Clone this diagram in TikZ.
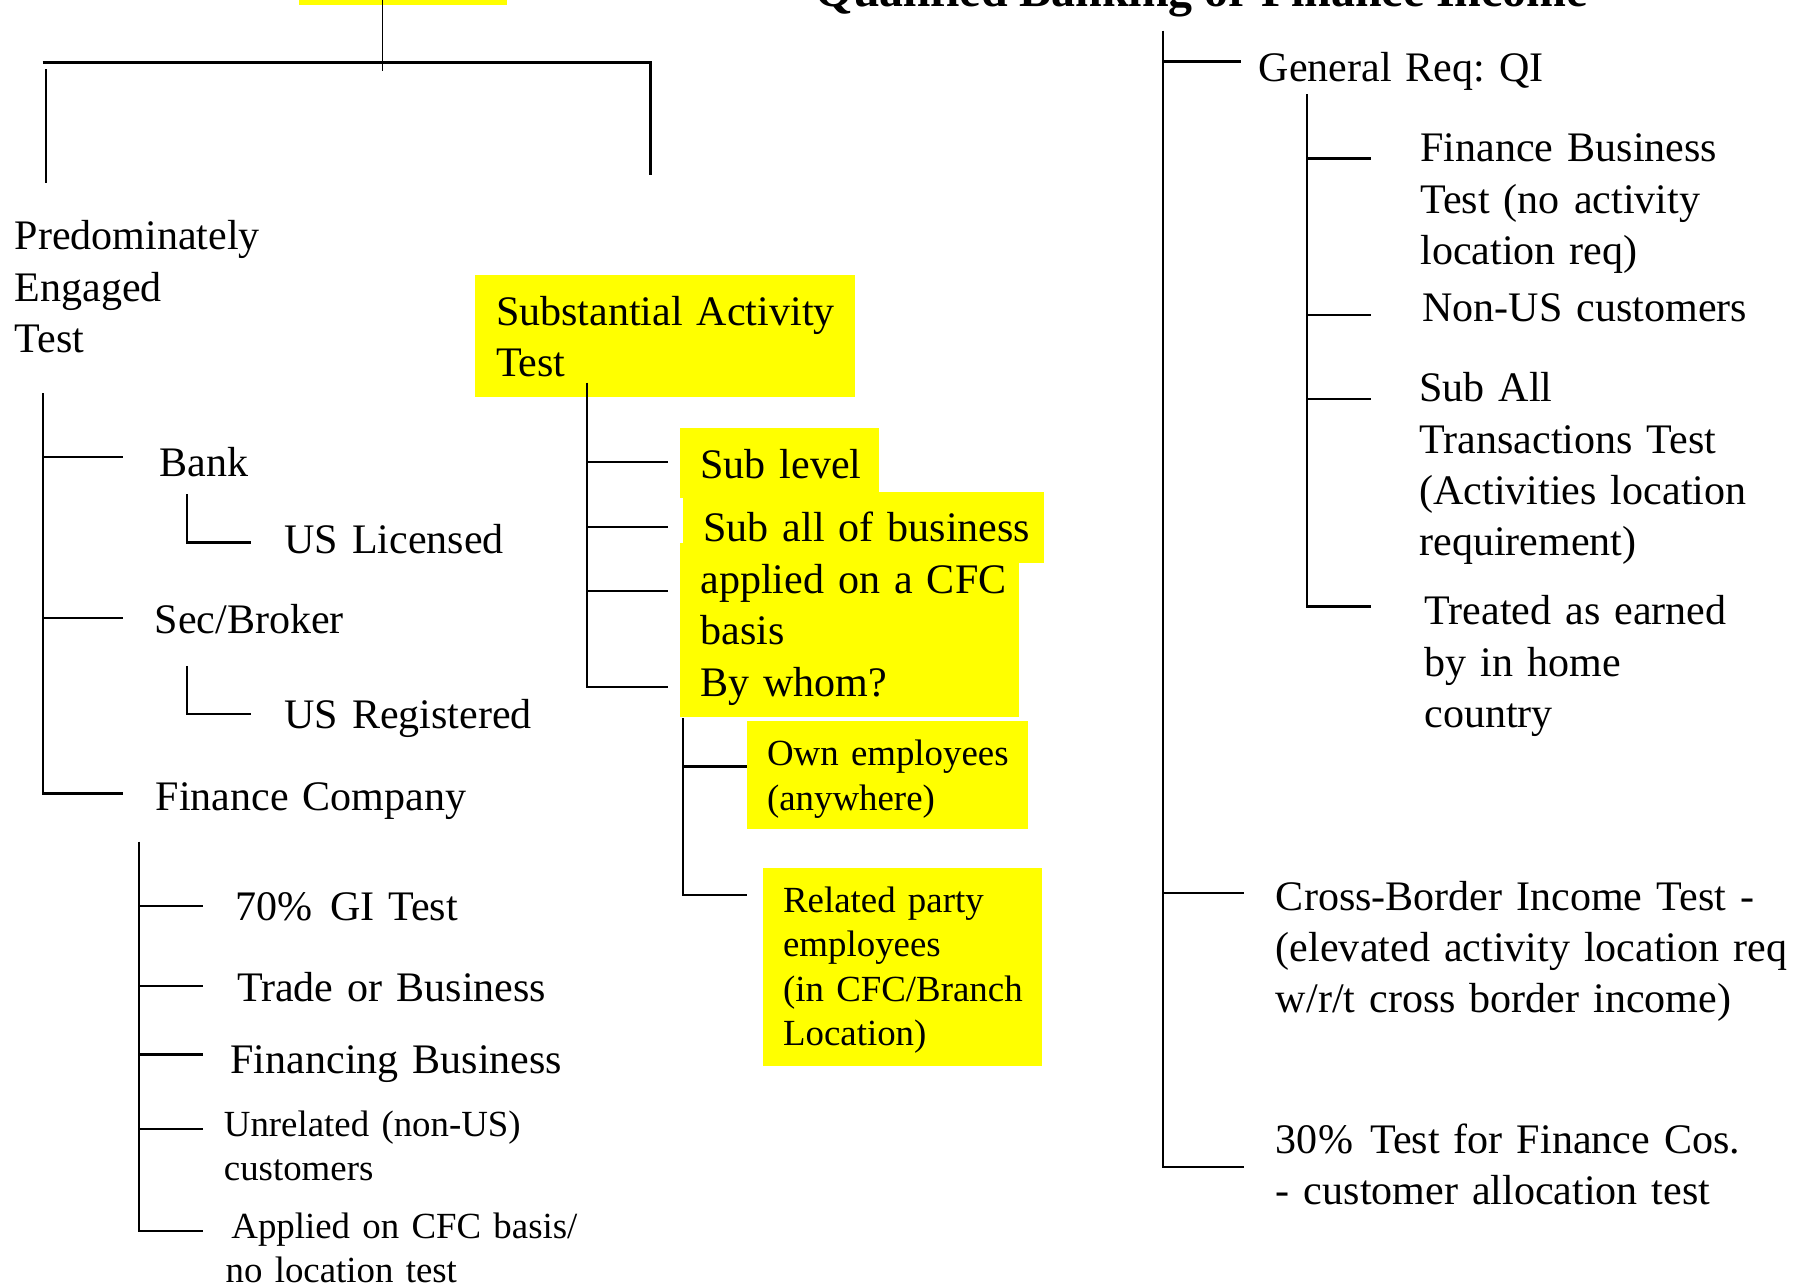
\documentclass[tikz,border=0pt]{standalone}
\usepackage{fontspec}
\setmainfont{Liberation Serif}
\frenchspacing
\begin{document}
\begin{tikzpicture}[x=0.5pt,y=-0.5pt,
  ln/.style={line width=1pt},
  thin/.style={line width=0.7pt},
  hl/.style={fill={rgb,255:red,255;green,255;blue,0}},
  big/.style={font=\fontsize{18.25}{22.3}\selectfont, anchor=base west, inner sep=0pt, text width=320pt, align=left},
  small/.style={font=\fontsize{16.0}{19.25}\selectfont, anchor=base west, inner sep=0pt, text width=320pt, align=left},
  ttl/.style={font=\fontsize{20.8}{24}\selectfont\bfseries, anchor=base west, inner sep=0pt}
]
\useasboundingbox (0,0) rectangle (1568,1118);

% ---------- highlight boxes ----------
\fill[hl] (259.7,-40) rectangle (440.6,4.3);
\fill[hl] (412.3,238.8) rectangle (742.4,344.4);
\fill[hl] (590.5,471.7) rectangle (884.9,622.2);
\fill[hl] (590.5,371.9) rectangle (763.3,432.7);
\fill[hl] (593,427.5) rectangle (906.5,488.5);
\fill[hl] (648.8,626) rectangle (892.2,720);
\fill[hl] (662.7,753.9) rectangle (904.4,925.2);

% ---------- coordinates ----------
\coordinate (topstub) at (332,0);
\coordinate (topjoin) at (332,61.4);
\coordinate (barL) at (36.9,54.1);
\coordinate (barR) at (564.7,54.1);
\coordinate (legL) at (39.9,60.2);
\coordinate (legLb) at (39.9,158.6);
\coordinate (legRb) at (564.7,151.9);

% ---------- top structure ----------
\draw[thin] (topstub) -- (topjoin);
\draw[line width=1.5pt] (barL) -- (barR) -- (legRb);
\draw[ln] (legL) -- (legLb);

\node[ttl] (title) at (708,6) {Qualified Banking or Finance Income};

% ---------- left column ----------
\node[big] (pet) at (12.4,217) {Predominately\\Engaged\\Test};
\coordinate (pbT) at (37.5,341.5);
\coordinate (pbB) at (37.5,688.8);
\draw[ln] (pbT) -- (pbB) -- (107,688.8);
\draw[ln] (37.5,397) -- (107,397);
\draw[ln] (37.5,536.3) -- (107,536.3);

\node[big] (bank) at (138,413.9) {Bank};
\node[big] (usl) at (246.5,480.4) {US Licensed};
\draw[ln] (162.2,428.9) -- (162.2,470.9) -- (218,470.9);

\node[big] (sec) at (134,549.9) {Sec/Broker};
\node[big] (usr) at (246.5,632.4) {US Registered};
\draw[ln] (162.2,578.2) -- (162.2,620.2) -- (218,620.2);

\node[big] (fco) at (134.9,703.3) {Finance Company};
\coordinate (fbT) at (120.5,730.7);
\coordinate (fbB) at (120.5,1068.5);
\draw[ln] (fbT) -- (fbB) -- (176.4,1068.5);
\foreach \yy in {786.3,855.8,915.4,980.5}
  \draw[ln] (120.5,\yy) -- (176.4,\yy);

\node[big] (gi) at (204.1,799.6) {70\%\hspace{1.5pt} GI Test};
\node[big] (tob) at (205.4,869.7) {Trade or Business};
\node[big] (fin) at (199.8,931.9) {Financing Business};
\node[small] (unr) at (194,986.3) {Unrelated (non-US)\\customers};
\node[small] (app) at (200.5,1075.1) {Applied on CFC basis/\\\hspace*{-2.5pt}no location test};

% ---------- middle column ----------
\node[big] (sat) at (430.3,282.2) {Substantial Activity\\Test};
\coordinate (sbT) at (509.5,332.2);
\coordinate (sbB) at (509.5,596.2);
\draw[ln] (sbT) -- (sbB) -- (579.7,596.2);
\foreach \yy in {401.4,457.3,513.1}
  \draw[ln] (509.5,\yy) -- (579.7,\yy);

\node[big] (sublvl) at (607.8,415.3) {Sub level};
\node[big] (suball) at (610.3,470.3) {Sub all of business};
\node[big] (appl) at (607.8,515.1) {applied on a CFC\\basis\\By whom?};

\coordinate (wbT) at (592.7,623.7);
\coordinate (wbB) at (592.7,777.1);
\draw[ln] (wbT) -- (wbB) -- (648.8,777.1);
\draw[ln] (592.7,665.6) -- (648.8,665.6);

\node[small] (own) at (665.6,665) {Own employees\\(anywhere)};
\node[small] (rel) at (679.5,792.1) {Related party\\employees\\(in CFC/Branch\\Location)};

% ---------- right column ----------
\coordinate (rbT) at (1009.5,26.6);
\coordinate (rbB) at (1009.5,1012.9);
\draw[ln] (rbT) -- (rbB) -- (1080.2,1012.9);
\draw[ln] (1009.5,53.5) -- (1077.3,53.5);
\draw[ln] (1009.5,775.6) -- (1080.2,775.6);

\node[big] (gen) at (1092.4,70.9) {General Req: QI};
\coordinate (gbT) at (1135,81.9);
\coordinate (gbB) at (1135,526.7);
\draw[ln] (gbT) -- (gbB) -- (1190.2,526.7);
\foreach \yy in {137.5,273.5,346.4}
  \draw[ln] (1135,\yy) -- (1190.2,\yy);

\node[big] (fbt) at (1232.9,140.4) {Finance Business\\Test (no activity\\location req)};
\node[big] (nus) at (1234.6,279.3) {Non-US customers};
\node[big] (sat2) at (1232,348.8) {Sub All\\Transactions Test\\(Activities location\\requirement)};
\node[big] (treat) at (1236.4,542.6) {Treated as earned\\by in home\\country};
\node[big] (cross) at (1107.4,790.1) {Cross-Border Income Test -\\(elevated activity location req\\w/r/t cross border income)};
\node[big] (thirty) at (1107.4,1001.3) {30\%\hspace{1.5pt} Test for Finance Cos.\\- customer allocation test};
\end{tikzpicture}
\end{document}
